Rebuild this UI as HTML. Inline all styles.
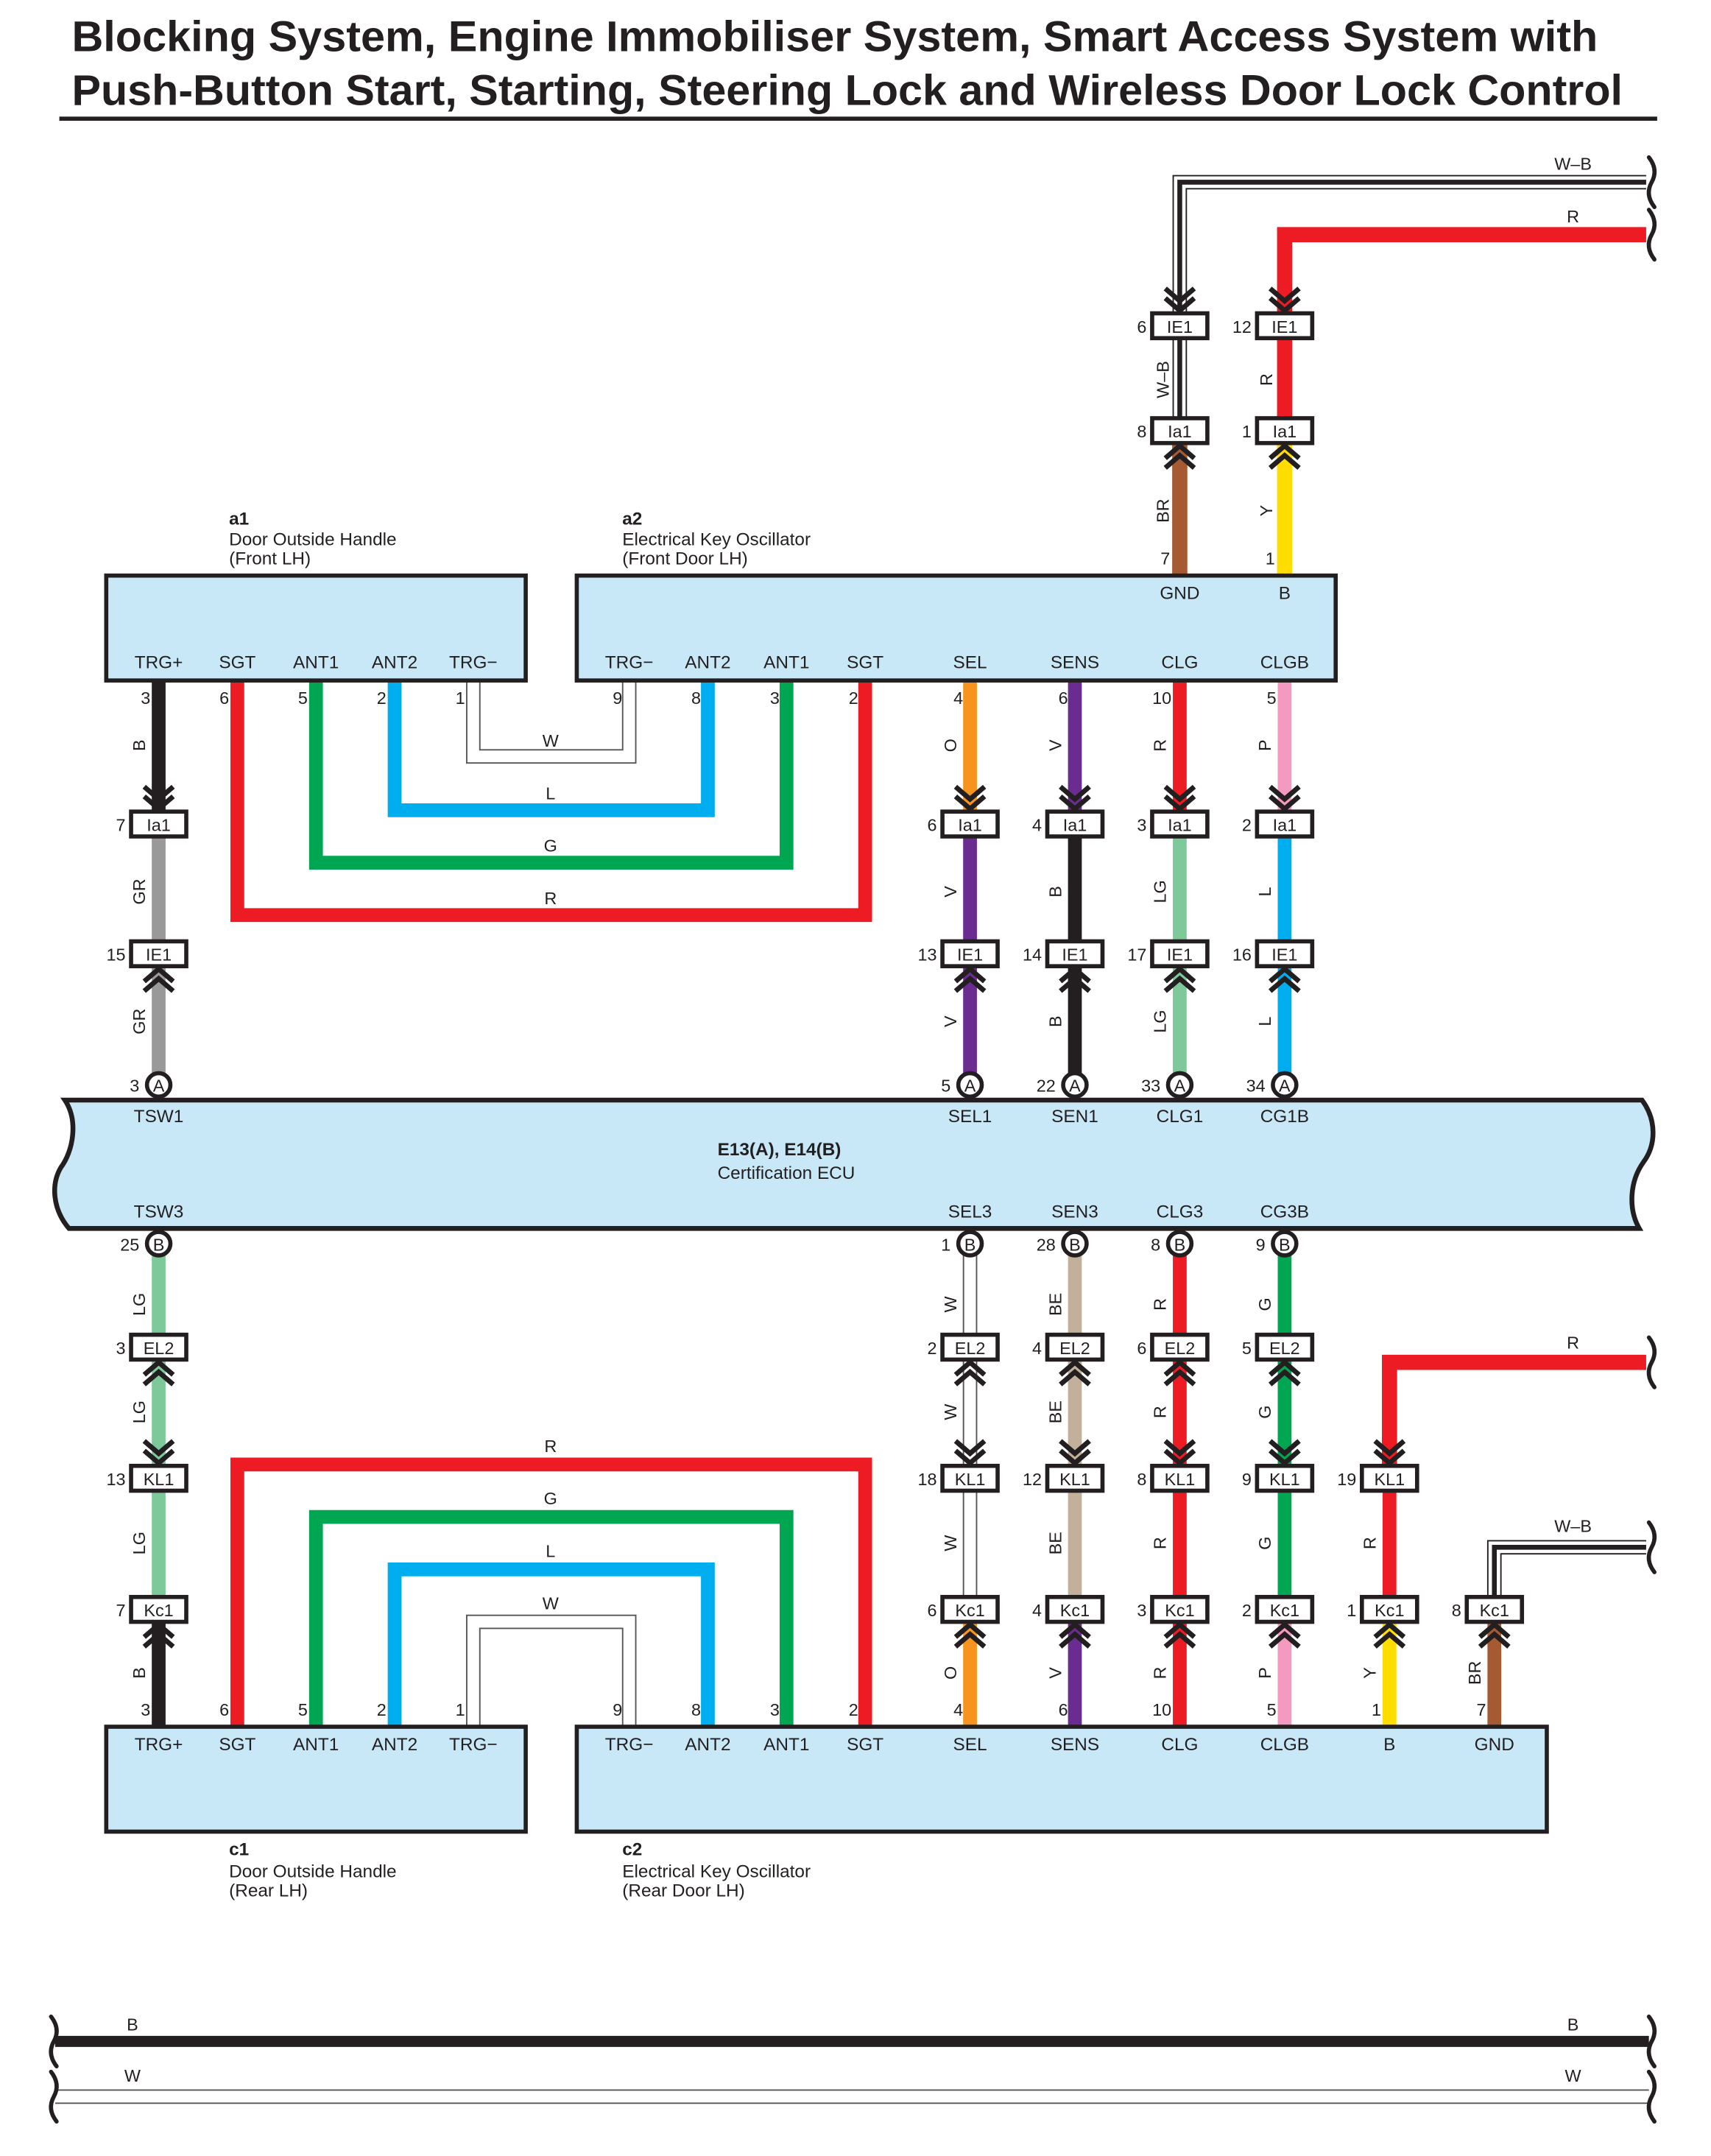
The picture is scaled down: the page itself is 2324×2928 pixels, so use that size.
<!DOCTYPE html>
<html><head><meta charset="utf-8"><style>
html,body{margin:0;padding:0;background:#fff}
svg{display:block}
text{font-family:"Liberation Sans",Arial,sans-serif;fill:#231f20}
.t{font-size:13px}
.p{font-size:12.5px}
.w{font-size:12.5px}
.c{text-anchor:middle}
.e{text-anchor:end}
.bx{fill:#fff;stroke:#231f20;stroke-width:3}
.ch{fill:none;stroke:#231f20;stroke-width:3.6}
.sq{fill:none;stroke:#231f20;stroke-width:3;stroke-linecap:round}
.W1{fill:none;stroke:#231f20;stroke-width:10.5}
.W2{fill:none;stroke:#fff;stroke-width:8.5}
.W3{fill:none;stroke:#231f20;stroke-width:3.5}
</style></head><body>
<svg width="2324" height="2928" viewBox="0 0 1240 1562" preserveAspectRatio="none" xmlns="http://www.w3.org/2000/svg">
<defs>
<g id="dn" class="ch"><path d="M-10.5,-18 L0,-9 L10.5,-18"/><path d="M-10.5,-11 L0,-2 L10.5,-11"/></g>
<g id="up" class="ch"><path d="M-10.5,18 L0,9 L10.5,18"/><path d="M-10.5,11 L0,2 L10.5,11"/></g>
<path id="sqg" d="M-2,-18 Q5,-9 0,0 Q-5,9 2,18" class="sq"/>
</defs>

<!-- Title -->
<text x="52" y="37" style="font-size:31px;font-weight:bold" textLength="1106" lengthAdjust="spacingAndGlyphs">Blocking System, Engine Immobiliser System, Smart Access System with</text>
<text x="52" y="76" style="font-size:31px;font-weight:bold" textLength="1124" lengthAdjust="spacingAndGlyphs">Push-Button Start, Starting, Steering Lock and Wireless Door Lock Control</text>
<line x1="43" y1="86" x2="1201" y2="86" stroke="#231f20" stroke-width="3"/>

<!-- ===== top W-B and R ===== -->
<path class="W1" d="M1193,132 H855 V226"/><path class="W2" d="M1193,132 H855 V226"/><path class="W3" d="M1193,132 H855 V226"/>
<path d="M1193,170 H931 V226" fill="none" stroke="#ed1c24" stroke-width="11"/>
<use href="#sqg" x="1197" y="132"/><use href="#sqg" x="1197" y="170"/>
<text class="w c" x="1140" y="123">W–B</text>
<text class="w c" x="1140" y="161">R</text>
<path class="W1" d="M855,245 V303"/><path class="W2" d="M855,245 V303"/><path class="W3" d="M855,245 V303"/>
<line x1="931" y1="245" x2="931" y2="303" stroke="#ed1c24" stroke-width="11"/>
<line x1="855" y1="321" x2="855" y2="416" stroke="#a65a32" stroke-width="11"/>
<line x1="931" y1="321" x2="931" y2="416" stroke="#ffdd00" stroke-width="11"/>
<text class="w c" transform="translate(847,275) rotate(-90)">W–B</text>
<text class="w c" transform="translate(922,275) rotate(-90)">R</text>
<text class="w c" transform="translate(847,370) rotate(-90)">BR</text>
<text class="w c" transform="translate(922,370) rotate(-90)">Y</text>
<text class="p e" x="848" y="409">7</text><text class="p e" x="924" y="409">1</text>
<use href="#dn" x="855" y="227"/><use href="#dn" x="931" y="227"/>
<use href="#up" x="855" y="321"/><use href="#up" x="931" y="321"/>
<rect class="bx" x="835" y="227" width="40" height="18"/><text class="p c" x="855" y="241">IE1</text>
<rect class="bx" x="911" y="227" width="40" height="18"/><text class="p c" x="931" y="241">IE1</text>
<rect class="bx" x="835" y="303" width="40" height="18"/><text class="p c" x="855" y="317">Ia1</text>
<rect class="bx" x="911" y="303" width="40" height="18"/><text class="p c" x="931" y="317">Ia1</text>
<text class="p e" x="831" y="241">6</text><text class="p e" x="907" y="241">12</text>
<text class="p e" x="831" y="317">8</text><text class="p e" x="907" y="317">1</text>

<!-- ===== top loops ===== -->
<path class="W1" d="M343,493 V548 H456 V493" style="stroke:#555"/><path class="W2" d="M343,493 V548 H456 V493"/>
<path d="M286,493 V587 H513 V493" fill="none" stroke="#00aeef" stroke-width="10"/>
<path d="M229,493 V625 H570 V493" fill="none" stroke="#00a651" stroke-width="10"/>
<path d="M172,493 V663 H627 V493" fill="none" stroke="#ed1c24" stroke-width="10"/>
<text class="w c" x="399" y="541">W</text>
<text class="w c" x="399" y="579">L</text>
<text class="w c" x="399" y="617">G</text>
<text class="w c" x="399" y="655">R</text>

<!-- ===== top columns ===== -->
<g stroke-width="10">
<line x1="115" y1="493" x2="115" y2="588" stroke="#231f20"/>
<line x1="115" y1="606" x2="115" y2="682" stroke="#999"/>
<line x1="115" y1="700" x2="115" y2="778" stroke="#999"/>
<line x1="703" y1="493" x2="703" y2="588" stroke="#f7941d"/>
<line x1="703" y1="606" x2="703" y2="682" stroke="#6a2c91"/>
<line x1="703" y1="700" x2="703" y2="778" stroke="#6a2c91"/>
<line x1="779" y1="493" x2="779" y2="588" stroke="#6a2c91"/>
<line x1="779" y1="606" x2="779" y2="682" stroke="#231f20"/>
<line x1="779" y1="700" x2="779" y2="778" stroke="#231f20"/>
<line x1="855" y1="493" x2="855" y2="588" stroke="#ed1c24"/>
<line x1="855" y1="606" x2="855" y2="682" stroke="#7dc99a"/>
<line x1="855" y1="700" x2="855" y2="778" stroke="#7dc99a"/>
<line x1="931" y1="493" x2="931" y2="588" stroke="#f49ac1"/>
<line x1="931" y1="606" x2="931" y2="682" stroke="#00aeef"/>
<line x1="931" y1="700" x2="931" y2="778" stroke="#00aeef"/>
</g>
<g class="w c">
<text transform="translate(105,540) rotate(-90)">B</text>
<text transform="translate(105,646) rotate(-90)">GR</text>
<text transform="translate(105,740) rotate(-90)">GR</text>
<text transform="translate(693,540) rotate(-90)">O</text>
<text transform="translate(693,646) rotate(-90)">V</text>
<text transform="translate(693,740) rotate(-90)">V</text>
<text transform="translate(769,540) rotate(-90)">V</text>
<text transform="translate(769,646) rotate(-90)">B</text>
<text transform="translate(769,740) rotate(-90)">B</text>
<text transform="translate(845,540) rotate(-90)">R</text>
<text transform="translate(845,646) rotate(-90)">LG</text>
<text transform="translate(845,740) rotate(-90)">LG</text>
<text transform="translate(921,540) rotate(-90)">P</text>
<text transform="translate(921,646) rotate(-90)">L</text>
<text transform="translate(921,740) rotate(-90)">L</text>
</g>
<g>
<use href="#dn" x="115" y="588"/><use href="#dn" x="703" y="588"/><use href="#dn" x="779" y="588"/><use href="#dn" x="855" y="588"/><use href="#dn" x="931" y="588"/>
<use href="#up" x="115" y="700"/><use href="#up" x="703" y="700"/><use href="#up" x="779" y="700"/><use href="#up" x="855" y="700"/><use href="#up" x="931" y="700"/>
</g>
<g>
<rect class="bx" x="95" y="588" width="40" height="18"/><text class="p c" x="115" y="602">Ia1</text>
<rect class="bx" x="683" y="588" width="40" height="18"/><text class="p c" x="703" y="602">Ia1</text>
<rect class="bx" x="759" y="588" width="40" height="18"/><text class="p c" x="779" y="602">Ia1</text>
<rect class="bx" x="835" y="588" width="40" height="18"/><text class="p c" x="855" y="602">Ia1</text>
<rect class="bx" x="911" y="588" width="40" height="18"/><text class="p c" x="931" y="602">Ia1</text>
<rect class="bx" x="95" y="682" width="40" height="18"/><text class="p c" x="115" y="696">IE1</text>
<rect class="bx" x="683" y="682" width="40" height="18"/><text class="p c" x="703" y="696">IE1</text>
<rect class="bx" x="759" y="682" width="40" height="18"/><text class="p c" x="779" y="696">IE1</text>
<rect class="bx" x="835" y="682" width="40" height="18"/><text class="p c" x="855" y="696">IE1</text>
<rect class="bx" x="911" y="682" width="40" height="18"/><text class="p c" x="931" y="696">IE1</text>
</g>
<g class="p e">
<text x="91" y="602">7</text><text x="679" y="602">6</text><text x="755" y="602">4</text><text x="831" y="602">3</text><text x="907" y="602">2</text>
<text x="91" y="696">15</text><text x="679" y="696">13</text><text x="755" y="696">14</text><text x="831" y="696">17</text><text x="907" y="696">16</text>
<text x="101" y="791">3</text><text x="689" y="791">5</text><text x="765" y="791">22</text><text x="841" y="791">33</text><text x="917" y="791">34</text>
</g>

<!-- a1 / a2 boxes -->
<rect x="77" y="417" width="304" height="76" fill="#c8e8f8" stroke="#231f20" stroke-width="3"/>
<rect x="418" y="417" width="550" height="76" fill="#c8e8f8" stroke="#231f20" stroke-width="3"/>
<text class="t" x="166" y="380" style="font-weight:bold">a1</text>
<text class="t" x="166" y="395">Door Outside Handle</text>
<text class="t" x="166" y="409">(Front LH)</text>
<text class="t" x="451" y="380" style="font-weight:bold">a2</text>
<text class="t" x="451" y="395">Electrical Key Oscillator</text>
<text class="t" x="451" y="409">(Front Door LH)</text>
<g class="t c">
<text x="855" y="434">GND</text><text x="931" y="434">B</text>
<text x="115" y="484">TRG+</text><text x="172" y="484">SGT</text><text x="229" y="484">ANT1</text><text x="286" y="484">ANT2</text><text x="343" y="484">TRG−</text>
<text x="456" y="484">TRG−</text><text x="513" y="484">ANT2</text><text x="570" y="484">ANT1</text><text x="627" y="484">SGT</text>
<text x="703" y="484">SEL</text><text x="779" y="484">SENS</text><text x="855" y="484">CLG</text><text x="931" y="484">CLGB</text>
</g>
<g class="p e">
<text x="109" y="510">3</text><text x="166" y="510">6</text><text x="223" y="510">5</text><text x="280" y="510">2</text><text x="337" y="510">1</text>
<text x="451" y="510">9</text><text x="508" y="510">8</text><text x="565" y="510">3</text><text x="622" y="510">2</text>
<text x="698" y="510">4</text><text x="774" y="510">6</text><text x="849" y="510">10</text><text x="925" y="510">5</text>
</g>

<!-- ECU -->
<path d="M47,797 L1190,797 C1201,812 1200,830 1191,842 C1181,856 1180,876 1188,890 L50,890 C38,876 37,858 44,846 C53,834 57,812 47,797 Z" fill="#c8e8f8" stroke="#231f20" stroke-width="3.5"/>
<g class="t c">
<text x="115" y="813">TSW1</text><text x="703" y="813">SEL1</text><text x="779" y="813">SEN1</text><text x="855" y="813">CLG1</text><text x="931" y="813">CG1B</text>
<text x="115" y="882">TSW3</text><text x="703" y="882">SEL3</text><text x="779" y="882">SEN3</text><text x="855" y="882">CLG3</text><text x="931" y="882">CG3B</text>
</g>
<text class="t" x="520" y="837" style="font-weight:bold">E13(A), E14(B)</text>
<text class="t" x="520" y="854">Certification ECU</text>
<g>
<circle cx="115" cy="786" r="8.5" fill="#fff" stroke="#231f20" stroke-width="3"/><text class="p c" x="115" y="791">A</text>
<circle cx="703" cy="786" r="8.5" fill="#fff" stroke="#231f20" stroke-width="3"/><text class="p c" x="703" y="791">A</text>
<circle cx="779" cy="786" r="8.5" fill="#fff" stroke="#231f20" stroke-width="3"/><text class="p c" x="779" y="791">A</text>
<circle cx="855" cy="786" r="8.5" fill="#fff" stroke="#231f20" stroke-width="3"/><text class="p c" x="855" y="791">A</text>
<circle cx="931" cy="786" r="8.5" fill="#fff" stroke="#231f20" stroke-width="3"/><text class="p c" x="931" y="791">A</text>
</g>

<!-- ===== bottom section wires ===== -->
<path class="W1" d="M343,1251 V1175 H456 V1251" style="stroke:#555"/><path class="W2" d="M343,1251 V1175 H456 V1251"/>
<path d="M286,1251 V1137 H513 V1251" fill="none" stroke="#00aeef" stroke-width="10"/>
<path d="M229,1251 V1099 H570 V1251" fill="none" stroke="#00a651" stroke-width="10"/>
<path d="M172,1251 V1061 H627 V1251" fill="none" stroke="#ed1c24" stroke-width="10"/>
<text class="w c" x="399" y="1166">W</text>
<text class="w c" x="399" y="1128">L</text>
<text class="w c" x="399" y="1090">G</text>
<text class="w c" x="399" y="1052">R</text>

<path class="W1" d="M703,909 V967 M703,985 V1062 M703,1080 V1157" style="stroke:#555"/>
<path class="W2" d="M703,909 V967 M703,985 V1062 M703,1080 V1157"/>
<g stroke-width="10">
<line x1="115" y1="909" x2="115" y2="967" stroke="#7dc99a"/>
<line x1="115" y1="985" x2="115" y2="1062" stroke="#7dc99a"/>
<line x1="115" y1="1080" x2="115" y2="1157" stroke="#7dc99a"/>
<line x1="115" y1="1175" x2="115" y2="1251" stroke="#231f20"/>
<line x1="703" y1="1175" x2="703" y2="1251" stroke="#f7941d"/>
<line x1="779" y1="909" x2="779" y2="967" stroke="#c2b09a"/>
<line x1="779" y1="985" x2="779" y2="1062" stroke="#c2b09a"/>
<line x1="779" y1="1080" x2="779" y2="1157" stroke="#c2b09a"/>
<line x1="779" y1="1175" x2="779" y2="1251" stroke="#6a2c91"/>
<line x1="855" y1="909" x2="855" y2="967" stroke="#ed1c24"/>
<line x1="855" y1="985" x2="855" y2="1062" stroke="#ed1c24"/>
<line x1="855" y1="1080" x2="855" y2="1157" stroke="#ed1c24"/>
<line x1="855" y1="1175" x2="855" y2="1251" stroke="#ed1c24"/>
<line x1="931" y1="909" x2="931" y2="967" stroke="#00a651"/>
<line x1="931" y1="985" x2="931" y2="1062" stroke="#00a651"/>
<line x1="931" y1="1080" x2="931" y2="1157" stroke="#00a651"/>
<line x1="931" y1="1175" x2="931" y2="1251" stroke="#f49ac1"/>
<line x1="1007" y1="1080" x2="1007" y2="1157" stroke="#ed1c24"/>
<line x1="1007" y1="1175" x2="1007" y2="1251" stroke="#ffdd00"/>
<line x1="1083" y1="1175" x2="1083" y2="1251" stroke="#a65a32"/>
</g>
<path d="M1193,987 H1007 V1062" fill="none" stroke="#ed1c24" stroke-width="11"/>
<path class="W1" d="M1193,1121 H1083 V1157"/><path class="W2" d="M1193,1121 H1083 V1157"/><path class="W3" d="M1193,1121 H1083 V1157"/>
<use href="#sqg" x="1197" y="987"/><use href="#sqg" x="1197" y="1121"/>
<text class="w c" x="1140" y="977">R</text>
<text class="w c" x="1140" y="1110">W–B</text>

<g class="w c">
<text transform="translate(105,945) rotate(-90)">LG</text>
<text transform="translate(105,1023) rotate(-90)">LG</text>
<text transform="translate(105,1118) rotate(-90)">LG</text>
<text transform="translate(105,1212) rotate(-90)">B</text>
<text transform="translate(693,945) rotate(-90)">W</text>
<text transform="translate(693,1023) rotate(-90)">W</text>
<text transform="translate(693,1118) rotate(-90)">W</text>
<text transform="translate(693,1212) rotate(-90)">O</text>
<text transform="translate(769,945) rotate(-90)">BE</text>
<text transform="translate(769,1023) rotate(-90)">BE</text>
<text transform="translate(769,1118) rotate(-90)">BE</text>
<text transform="translate(769,1212) rotate(-90)">V</text>
<text transform="translate(845,945) rotate(-90)">R</text>
<text transform="translate(845,1023) rotate(-90)">R</text>
<text transform="translate(845,1118) rotate(-90)">R</text>
<text transform="translate(845,1212) rotate(-90)">R</text>
<text transform="translate(921,945) rotate(-90)">G</text>
<text transform="translate(921,1023) rotate(-90)">G</text>
<text transform="translate(921,1118) rotate(-90)">G</text>
<text transform="translate(921,1212) rotate(-90)">P</text>
<text transform="translate(997,1118) rotate(-90)">R</text>
<text transform="translate(997,1212) rotate(-90)">Y</text>
<text transform="translate(1073,1212) rotate(-90)">BR</text>
</g>
<g>
<use href="#up" x="115" y="985"/><use href="#up" x="703" y="985"/><use href="#up" x="779" y="985"/><use href="#up" x="855" y="985"/><use href="#up" x="931" y="985"/>
<use href="#dn" x="115" y="1062"/><use href="#dn" x="703" y="1062"/><use href="#dn" x="779" y="1062"/><use href="#dn" x="855" y="1062"/><use href="#dn" x="931" y="1062"/><use href="#dn" x="1007" y="1062"/>
<use href="#up" x="115" y="1175"/><use href="#up" x="703" y="1175"/><use href="#up" x="779" y="1175"/><use href="#up" x="855" y="1175"/><use href="#up" x="931" y="1175"/><use href="#up" x="1007" y="1175"/><use href="#up" x="1083" y="1175"/>
</g>
<g>
<rect class="bx" x="95" y="967" width="40" height="18"/><text class="p c" x="115" y="981">EL2</text>
<rect class="bx" x="683" y="967" width="40" height="18"/><text class="p c" x="703" y="981">EL2</text>
<rect class="bx" x="759" y="967" width="40" height="18"/><text class="p c" x="779" y="981">EL2</text>
<rect class="bx" x="835" y="967" width="40" height="18"/><text class="p c" x="855" y="981">EL2</text>
<rect class="bx" x="911" y="967" width="40" height="18"/><text class="p c" x="931" y="981">EL2</text>
<rect class="bx" x="95" y="1062" width="40" height="18"/><text class="p c" x="115" y="1076">KL1</text>
<rect class="bx" x="683" y="1062" width="40" height="18"/><text class="p c" x="703" y="1076">KL1</text>
<rect class="bx" x="759" y="1062" width="40" height="18"/><text class="p c" x="779" y="1076">KL1</text>
<rect class="bx" x="835" y="1062" width="40" height="18"/><text class="p c" x="855" y="1076">KL1</text>
<rect class="bx" x="911" y="1062" width="40" height="18"/><text class="p c" x="931" y="1076">KL1</text>
<rect class="bx" x="987" y="1062" width="40" height="18"/><text class="p c" x="1007" y="1076">KL1</text>
<rect class="bx" x="95" y="1157" width="40" height="18"/><text class="p c" x="115" y="1171">Kc1</text>
<rect class="bx" x="683" y="1157" width="40" height="18"/><text class="p c" x="703" y="1171">Kc1</text>
<rect class="bx" x="759" y="1157" width="40" height="18"/><text class="p c" x="779" y="1171">Kc1</text>
<rect class="bx" x="835" y="1157" width="40" height="18"/><text class="p c" x="855" y="1171">Kc1</text>
<rect class="bx" x="911" y="1157" width="40" height="18"/><text class="p c" x="931" y="1171">Kc1</text>
<rect class="bx" x="987" y="1157" width="40" height="18"/><text class="p c" x="1007" y="1171">Kc1</text>
<rect class="bx" x="1063" y="1157" width="40" height="18"/><text class="p c" x="1083" y="1171">Kc1</text>
</g>
<g>
<circle cx="115" cy="901" r="8.5" fill="#fff" stroke="#231f20" stroke-width="3"/><text class="p c" x="115" y="906">B</text>
<circle cx="703" cy="901" r="8.5" fill="#fff" stroke="#231f20" stroke-width="3"/><text class="p c" x="703" y="906">B</text>
<circle cx="779" cy="901" r="8.5" fill="#fff" stroke="#231f20" stroke-width="3"/><text class="p c" x="779" y="906">B</text>
<circle cx="855" cy="901" r="8.5" fill="#fff" stroke="#231f20" stroke-width="3"/><text class="p c" x="855" y="906">B</text>
<circle cx="931" cy="901" r="8.5" fill="#fff" stroke="#231f20" stroke-width="3"/><text class="p c" x="931" y="906">B</text>
</g>
<g class="p e">
<text x="101" y="906">25</text><text x="689" y="906">1</text><text x="765" y="906">28</text><text x="841" y="906">8</text><text x="917" y="906">9</text>
<text x="91" y="981">3</text><text x="679" y="981">2</text><text x="755" y="981">4</text><text x="831" y="981">6</text><text x="907" y="981">5</text>
<text x="91" y="1076">13</text><text x="679" y="1076">18</text><text x="755" y="1076">12</text><text x="831" y="1076">8</text><text x="907" y="1076">9</text><text x="983" y="1076">19</text>
<text x="91" y="1171">7</text><text x="679" y="1171">6</text><text x="755" y="1171">4</text><text x="831" y="1171">3</text><text x="907" y="1171">2</text><text x="983" y="1171">1</text><text x="1059" y="1171">8</text>
<text x="109" y="1243">3</text><text x="166" y="1243">6</text><text x="223" y="1243">5</text><text x="280" y="1243">2</text><text x="337" y="1243">1</text>
<text x="451" y="1243">9</text><text x="508" y="1243">8</text><text x="565" y="1243">3</text><text x="622" y="1243">2</text>
<text x="698" y="1243">4</text><text x="774" y="1243">6</text><text x="849" y="1243">10</text><text x="925" y="1243">5</text><text x="1001" y="1243">1</text><text x="1077" y="1243">7</text>
</g>

<!-- c1 / c2 boxes -->
<rect x="77" y="1251" width="304" height="76" fill="#c8e8f8" stroke="#231f20" stroke-width="3"/>
<rect x="418" y="1251" width="703" height="76" fill="#c8e8f8" stroke="#231f20" stroke-width="3"/>
<g class="t c">
<text x="115" y="1268">TRG+</text><text x="172" y="1268">SGT</text><text x="229" y="1268">ANT1</text><text x="286" y="1268">ANT2</text><text x="343" y="1268">TRG−</text>
<text x="456" y="1268">TRG−</text><text x="513" y="1268">ANT2</text><text x="570" y="1268">ANT1</text><text x="627" y="1268">SGT</text>
<text x="703" y="1268">SEL</text><text x="779" y="1268">SENS</text><text x="855" y="1268">CLG</text><text x="931" y="1268">CLGB</text><text x="1007" y="1268">B</text><text x="1083" y="1268">GND</text>
</g>
<text class="t" x="166" y="1344" style="font-weight:bold">c1</text>
<text class="t" x="166" y="1360">Door Outside Handle</text>
<text class="t" x="166" y="1374">(Rear LH)</text>
<text class="t" x="451" y="1344" style="font-weight:bold">c2</text>
<text class="t" x="451" y="1360">Electrical Key Oscillator</text>
<text class="t" x="451" y="1374">(Rear Door LH)</text>

<!-- bottom bus -->
<line x1="40" y1="1479" x2="1195" y2="1479" stroke="#231f20" stroke-width="8"/>
<path class="W1" d="M40,1519 H1195" style="stroke:#555"/><path class="W2" d="M40,1519 H1195"/>
<use href="#sqg" x="39" y="1479"/><use href="#sqg" x="1197" y="1479"/>
<use href="#sqg" x="39" y="1519"/><use href="#sqg" x="1197" y="1519"/>
<text class="w c" x="96" y="1471">B</text><text class="w c" x="1140" y="1471">B</text>
<text class="w c" x="96" y="1508">W</text><text class="w c" x="1140" y="1508">W</text>
</svg>
</body></html>
